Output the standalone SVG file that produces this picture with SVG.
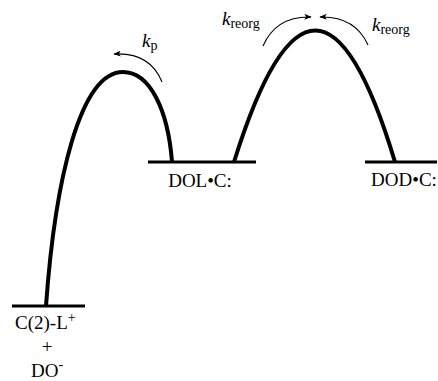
<svg xmlns="http://www.w3.org/2000/svg" width="438" height="381" viewBox="0 0 438 381">
<style>
.lvl{stroke:#000;stroke-width:3;fill:none}
.bar{stroke:#000;stroke-width:4;fill:none;stroke-linecap:butt}
.arr{stroke:#000;stroke-width:1.1;fill:none}
text{font-family:'Liberation Serif','DejaVu Serif',serif;fill:#000}
.t{font-size:19px}
.k{font-size:19px;font-style:italic}
.s{font-size:14px;font-style:normal}
</style>
<defs>
<marker id="ah" viewBox="0 0 10 8" refX="9" refY="4" markerWidth="8" markerHeight="6" orient="auto" markerUnits="userSpaceOnUse">
<path d="M0,0 L10,4 L0,8 L2.5,4 Z" fill="#000"/>
</marker>
</defs>
<g id="start">
<line class="lvl" x1="12" y1="306" x2="85" y2="306"/>
<text class="t" x="15" y="329">C(2)-L<tspan font-size="14" dy="-7">+</tspan></text>
<text class="t" x="47" y="353" text-anchor="middle">+</text>
<text class="t" x="31" y="377">DO<tspan font-size="14" dy="-8">-</tspan></text>
</g>
<g id="DOLC">
<line class="lvl" x1="148" y1="162" x2="256" y2="162"/>
<text class="t" x="200" y="187" text-anchor="middle">DOL•C:</text>
</g>
<g id="DODC">
<line class="lvl" x1="365" y1="162" x2="437" y2="162"/>
<text class="t" x="404" y="186" text-anchor="middle">DOD•C:</text>
</g>
<g id="connectors">
<path class="bar" d="M46,306 C55,180 80,72 123,72 C150,72 168,110 172,162"/>
<path class="bar" d="M234,162 Q316,-101 395,162"/>
<path class="arr" d="M162,82 Q150,52 114,54" marker-end="url(#ah)"/>
<path class="arr" d="M263,46 Q276,16 311,17" marker-end="url(#ah)"/>
<path class="arr" d="M368,45 Q355,16 320,17" marker-end="url(#ah)"/>
</g>
<g id="labels">
<text class="k" x="142" y="47">k<tspan class="s" dy="3">p</tspan></text>
<text class="k" x="222" y="25">k<tspan class="s" dy="3">reorg</tspan></text>
<text class="k" x="372" y="31">k<tspan class="s" dy="3">reorg</tspan></text>
</g>
</svg>
